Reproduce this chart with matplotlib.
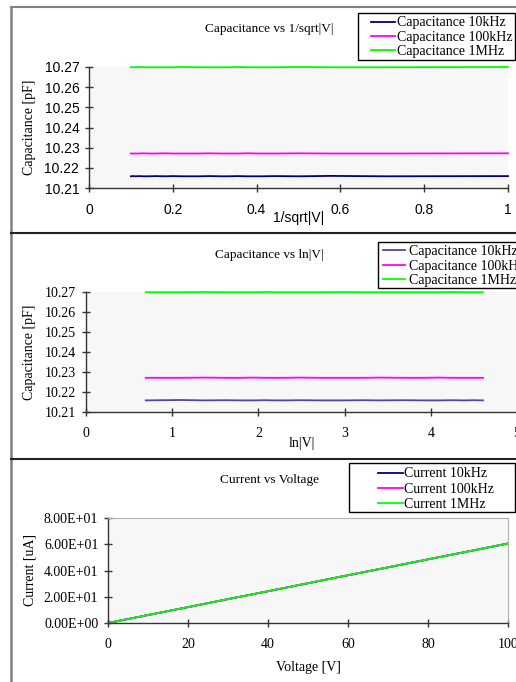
import matplotlib
matplotlib.use("Agg")
import matplotlib.pyplot as plt
import numpy as np
from matplotlib.ticker import FuncFormatter, FormatStrFormatter

# measurement voltages [V]
voltage = [1, 2, 3, 4, 5, 6, 7, 8, 9, 10, 12, 15, 20, 25, 30, 40, 50, 60, 70, 80, 90, 100]

# capacitance [pF] per frequency
cap_10k = [10.2159, 10.2158, 10.2160, 10.2158, 10.2159, 10.2158, 10.2158, 10.2159, 10.2158, 10.2158,
           10.2159, 10.2158, 10.2158, 10.2159, 10.2158, 10.2159, 10.2158, 10.2158, 10.2159, 10.2158,
           10.2159, 10.2158]
cap_100k = [10.2272, 10.2271, 10.2271, 10.2272, 10.2271, 10.2271, 10.2272, 10.2271, 10.2271, 10.2271,
            10.2272, 10.2271, 10.2271, 10.2271, 10.2272, 10.2271, 10.2271, 10.2272, 10.2271, 10.2271,
            10.2271, 10.2271]
cap_1M = [10.2700, 10.2699, 10.2699, 10.2700, 10.2699, 10.2699, 10.2699, 10.2700, 10.2699, 10.2699,
          10.2699, 10.2699, 10.2700, 10.2699, 10.2699, 10.2699, 10.2699, 10.2699, 10.2700, 10.2699,
          10.2699, 10.2699]

# current vs voltage [uA]
iv_voltage = [0, 10, 20, 30, 40, 50, 60, 70, 80, 90, 100]
cur_10k = [0.0, 6.06, 12.1, 18.2, 24.2, 30.3, 36.4, 42.4, 48.5, 54.5, 60.6]
cur_100k = [0.0, 6.06, 12.1, 18.2, 24.2, 30.3, 36.4, 42.4, 48.5, 54.5, 60.6]
cur_1M = [0.0, 6.06, 12.1, 18.2, 24.2, 30.3, 36.4, 42.4, 48.5, 54.5, 60.6]

W, H = 516, 682
SERIF = "Liberation Serif"
SANS = "Liberation Sans"
NAVY = "#000080"
MAG = "#ff00ff"
LIME = "#00ff00"
BG = "#f7f7f7"
FS = 10

fig = plt.figure(figsize=(W / 100, H / 100), dpi=100)


def px_axes(x0, x1, y0, y1):
    # pixel box (top-left origin) -> axes
    return fig.add_axes([x0 / W, 1 - y1 / H, (x1 - x0) / W, (y1 - y0) / H])


def style(ax, tickfont):
    ax.set_facecolor(BG)
    for s in ("top", "right"):
        ax.spines[s].set_visible(False)
    for s in ("left", "bottom"):
        ax.spines[s].set_color("#333333")
        ax.spines[s].set_linewidth(1.0)
    ax.tick_params(direction="inout", length=6, width=1.0, color="#333333",
                   labelsize=FS)
    ax.tick_params(axis="x", pad=8)
    ax.tick_params(axis="y", pad=4)
    for lab in ax.get_xticklabels() + ax.get_yticklabels():
        lab.set_fontfamily(tickfont)
    for line in ax.get_lines():
        line.set_clip_on(False)


def legend(ax, hx, ymid, hlen, tpad, sp, box):
    ax.legend(loc="center left", bbox_to_anchor=(hx / W, 1 - ymid / H),
              bbox_transform=fig.transFigure, frameon=False, borderaxespad=0,
              borderpad=0, handlelength=hlen, handletextpad=tpad, labelspacing=sp,
              prop={"family": SERIF, "size": FS})
    x0, x1, y0, y1 = box
    fig.add_artist(plt.Rectangle((x0 / W, 1 - y1 / H), (x1 - x0) / W, (y1 - y0) / H,
                                 transform=fig.transFigure, fill=False,
                                 edgecolor="black", lw=1.0))


def ylab(ax, text, xpx, ax_x0, ax_w):
    ax.set_ylabel(text, fontfamily=SERIF, fontsize=FS, va="center")
    ax.yaxis.set_label_coords((xpx - ax_x0) / ax_w, 0.5)


# ---- panel 1: capacitance vs 1/sqrt|V|
ax1 = px_axes(89, 508, 67, 188)
x1 = [1 / np.sqrt(v) for v in voltage]
ax1.plot(x1, cap_10k, color=NAVY, lw=1.3, label="Capacitance 10kHz")
ax1.plot(x1, cap_100k, color=MAG, lw=1.3, label="Capacitance 100kHz")
ax1.plot(x1, cap_1M, color=LIME, lw=1.3, label="Capacitance 1MHz")
ax1.set_xlim(0, 1)
ax1.set_ylim(10.21, 10.27)
ax1.set_xticks([0, 0.2, 0.4, 0.6, 0.8, 1])
ax1.set_yticks([10.21, 10.22, 10.23, 10.24, 10.25, 10.26, 10.27])
ax1.xaxis.set_major_formatter(FuncFormatter(lambda v, p: f"{v:g}"))
ax1.yaxis.set_major_formatter(FormatStrFormatter("%.2f"))
style(ax1, SANS)
ylab(ax1, "Capacitance [pF]", 30, 89, 419)
ax1.set_xlabel("1/sqrt|V|", fontfamily=SANS, fontsize=FS, va="center")
ax1.xaxis.set_label_coords(0.5, -30 / 121)
fig.text(269 / W, 1 - 29 / H, "Capacitance vs 1/sqrt|V|", ha="center", va="center",
         fontfamily=SERIF, fontsize=9.5)
legend(ax1, 371, 37, 1.75, 0.15, 0.08, (358, 515, 13, 60))

# ---- panel 2: capacitance vs ln|V|
ax2 = px_axes(86, 517, 292, 412)
x2 = [np.log(v) for v in voltage[1:]]
ax2.plot(x2, cap_10k[1:], color="#4a4aa0", lw=1.3, label="Capacitance 10kHz")
ax2.plot(x2, cap_100k[1:], color=MAG, lw=1.3, label="Capacitance 100kHz")
ax2.plot(x2, cap_1M[1:], color=LIME, lw=1.3, label="Capacitance 1MHz")
ax2.set_xlim(0, 5)
ax2.set_ylim(10.21, 10.27)
ax2.set_xticks([0, 1, 2, 3, 4, 5])
ax2.set_yticks([10.21, 10.22, 10.23, 10.24, 10.25, 10.26, 10.27])
ax2.yaxis.set_major_formatter(FormatStrFormatter("%.2f"))
style(ax2, SERIF)
ylab(ax2, "Capacitance [pF]", 30, 86, 431)
ax2.set_xlabel("ln|V|", fontfamily=SERIF, fontsize=FS, va="center")
ax2.xaxis.set_label_coords(0.5, -32 / 120)
fig.text(269 / W, 1 - 255 / H, "Capacitance vs ln|V|", ha="center", va="center",
         fontfamily=SERIF, fontsize=9.5)
legend(ax2, 383, 266, 1.6, 0.28, 0.12, (378, 522, 242, 288))

# ---- panel 3: current vs voltage
ax3 = px_axes(108, 508, 518, 623)
ax3.plot(iv_voltage, cur_10k, color=NAVY, lw=1.3, label="Current 10kHz")
ax3.plot(iv_voltage, cur_100k, color=MAG, lw=1.3, label="Current 100kHz")
ax3.plot(iv_voltage, cur_1M, color=LIME, lw=1.3, label="Current 1MHz")
ax3.set_xlim(0, 100)
ax3.set_ylim(0, 80)
ax3.set_xticks([0, 20, 40, 60, 80, 100])
ax3.set_yticks([0, 20, 40, 60, 80])
ax3.yaxis.set_major_formatter(FuncFormatter(lambda v, p: f"{v:.2E}"))
style(ax3, SERIF)
for s in ("top", "right"):
    ax3.spines[s].set_visible(True)
    ax3.spines[s].set_color("#b0b0b0")
ylab(ax3, "Current [uA]", 30, 108, 400)
ax3.set_xlabel("Voltage [V]", fontfamily=SERIF, fontsize=FS, va="center")
ax3.xaxis.set_label_coords(0.5, -44 / 105)
fig.text(269 / W, 1 - 480 / H, "Current vs Voltage", ha="center", va="center",
         fontfamily=SERIF, fontsize=9.5)
legend(ax3, 378, 489, 1.8, 0.07, 0.15, (349, 515, 463, 512))

# ---- chart frames
def hline(y, color, lw):
    fig.add_artist(plt.Line2D([11 / W, 1], [1 - y / H, 1 - y / H], color=color, lw=lw,
                              transform=fig.transFigure))

fig.add_artist(plt.Line2D([11 / W, 11 / W], [0, 1 - 7 / H], color="#808080", lw=1.8,
                          transform=fig.transFigure))
hline(7, "#808080", 1.5)
hline(233.5, "#222222", 1.5)
hline(459, "#222222", 1.5)

fig.savefig("out.png", dpi=100)
